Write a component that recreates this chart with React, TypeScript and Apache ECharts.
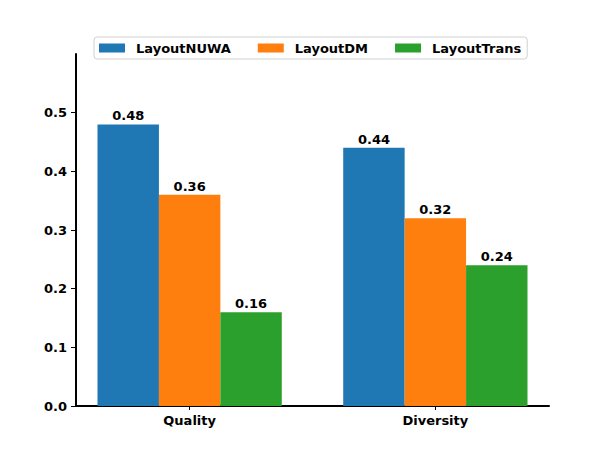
import React, { useEffect, useRef } from "react";
import * as echarts from "echarts";

const categories = ["Quality", "Diversity"];
const seriesNames = ["LayoutNUWA", "LayoutDM", "LayoutTrans"];
const layoutNUWA = [0.48, 0.44];
const layoutDM = [0.36, 0.32];
const layoutTrans = [0.16, 0.24];
const yTicks = [0, 0.1, 0.2, 0.3, 0.4, 0.5];
const colors = ["#1f77b4", "#ff7f0e", "#2ca02c"];

const FONT = "DejaVu Sans";

export default function App() {
  const ref = useRef<HTMLDivElement>(null);
  useEffect(() => {
    if (!ref.current) return;
    const chart = echarts.init(ref.current, null, { renderer: "svg" });
    const allSeries = [layoutNUWA, layoutDM, layoutTrans];
    const barW = 0.25;
    const xMin = -0.4625;
    const xMax = 1.4625;
    const plotWidth = 609 - 76 - 60;
    const barPx = (barW * plotWidth) / (xMax - xMin);
    chart.setOption({
      animation: false,
      textStyle: { fontFamily: FONT },
      grid: { left: 76, right: 60, top: 54, bottom: 51, containLabel: false },
      legend: {
        left: 94,
        top: 37,
        icon: "rect",
        itemWidth: 26,
        itemHeight: 9,
        itemGap: 27,
        padding: [4, 6, 4, 5],
        borderColor: "#d0d0d0",
        borderWidth: 1,
        borderRadius: 3,
        backgroundColor: "#ffffff",
        data: seriesNames,
        textStyle: {
          fontFamily: FONT,
          fontWeight: "bold",
          fontSize: 13,
          color: "#000",
          padding: [0, 0, 0, 6],
          lineHeight: 14,
        },
      },
      xAxis: {
        type: "value",
        min: xMin,
        max: xMax,
        splitLine: { show: false },
        axisLine: { show: true, onZero: false, lineStyle: { color: "#000", width: 2 } },
        axisTick: {
          show: true,
          length: 4,
          customValues: [0, 1],
          lineStyle: { color: "#000", width: 1 },
        },
        axisLabel: {
          customValues: [0, 1],
          formatter: (v: number) => categories[Math.round(v)] ?? "",
          fontFamily: FONT,
          fontWeight: "bold",
          fontSize: 13,
          color: "#000",
          margin: 8,
        },
      },
      yAxis: {
        type: "value",
        min: 0,
        max: 0.6,
        interval: 0.1,
        splitLine: { show: false },
        axisLine: { show: true, onZero: false, lineStyle: { color: "#000", width: 2 } },
        axisTick: {
          show: true,
          length: 5,
          customValues: yTicks,
          lineStyle: { color: "#000", width: 1 },
        },
        axisLabel: {
          customValues: yTicks,
          formatter: (v: number) => v.toFixed(1),
          fontFamily: FONT,
          fontWeight: "bold",
          fontSize: 13,
          color: "#000",
          margin: 9,
        },
      },
      series: allSeries.map((vals, si) => ({
        name: seriesNames[si],
        type: "bar",
        barWidth: barPx,
        barGap: "-100%",
        itemStyle: { color: colors[si] },
        data: vals.map((v, ci) => [ci + (si - 1) * barW, v]),
        label: {
          show: true,
          position: "top",
          distance: 2,
          formatter: (p: any) => Number(p.value[1]).toFixed(2),
          fontFamily: FONT,
          fontWeight: "bold",
          fontSize: 13,
          color: "#000",
        },
      })),
    });
    return () => chart.dispose();
  }, []);
  return (
    <div
      ref={ref}
      style={{ position: "absolute", left: 0, top: 0, width: 609, height: 457 }}
    />
  );
}
